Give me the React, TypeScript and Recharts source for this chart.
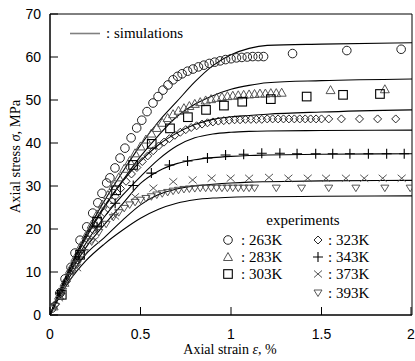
import React from "react";
import {
  ComposedChart,
  Line,
  Scatter,
  XAxis,
  YAxis,
  ReferenceArea,
} from "recharts";

// axis ticks
const xTicks = [0, 0.5, 1, 1.5, 2];
const yTicks = [0, 10, 20, 30, 40, 50, 60, 70];

// simulation curves (strain %, stress MPa)
const simX = [0, 0.05, 0.1, 0.15, 0.2, 0.3, 0.4, 0.5, 0.6, 0.7, 0.8, 0.9, 1.0, 1.1, 1.2, 1.5, 2.0];
const sim263 = [0, 5.3, 10.2, 14.7, 19, 26.5, 33.2, 39.5, 45, 49.6, 54.2, 58, 60.5, 62, 62.7, 63, 63.3];
const sim283 = [0, 5.2, 10, 14.4, 18.5, 25.3, 31.2, 36.9, 41.8, 46.1, 49, 51, 52.5, 53.4, 54, 54.5, 54.9];
const sim303 = [0, 5, 9.7, 14, 18, 25, 31, 35.8, 39.6, 42.3, 44.3, 45.5, 46.1, 46.4, 46.7, 47.2, 47.7];
const sim323 = [0, 4.9, 9.3, 13.2, 16.8, 22.8, 27.8, 32.2, 36.2, 39.3, 41.2, 42.1, 42.5, 42.7, 42.8, 42.9, 43];
const sim343 = [0, 4.8, 9, 12.6, 15.8, 21, 25.8, 30.6, 33.5, 35.2, 36.1, 36.6, 36.9, 37.1, 37.2, 37.4, 37.5];
const sim373 = [0, 4.5, 8.3, 11.5, 14.2, 18, 22, 25.6, 28, 29.3, 30, 30.4, 30.7, 30.9, 31, 31.2, 31.3];
const sim393 = [0, 4, 7.5, 10.3, 12.7, 16.5, 19.7, 22.5, 24.6, 26, 26.8, 27.2, 27.4, 27.5, 27.5, 27.6, 27.7];

// experiments [strain, stress]
const exp263 = [
  [0.01, 1.6], [0.055, 5.1], [0.083, 8.4], [0.116, 11.1], [0.138, 14.4], [0.166, 17.4], [0.203, 20.5],
  [0.236, 23.7], [0.264, 26.1], [0.287, 28.3], [0.313, 30.7], [0.331, 31.9], [0.359, 34.2], [0.387, 36.5],
  [0.414, 38.8], [0.448, 41.2], [0.479, 43.5], [0.507, 45.3], [0.536, 47.3], [0.569, 49.3], [0.597, 50.8],
  [0.624, 52.3], [0.652, 53.5], [0.68, 54.7], [0.705, 55.5], [0.73, 56.1], [0.76, 56.7], [0.79, 57.2],
  [0.82, 57.7], [0.85, 58.1], [0.88, 58.5], [0.91, 58.8], [0.94, 59.1], [0.97, 59.4], [1.0, 59.6],
  [1.03, 59.8], [1.06, 59.9], [1.09, 60], [1.12, 60.1], [1.15, 60.1], [1.18, 60.1], [1.34, 60.8],
  [1.64, 61.5], [1.94, 61.8],
];
const exp283 = [
  [0.02, 2], [0.05, 4.5], [0.08, 7.5], [0.11, 10.5], [0.14, 13.3], [0.17, 16], [0.2, 18.5], [0.23, 21],
  [0.26, 23.4], [0.29, 25.7], [0.32, 27.9], [0.35, 30], [0.38, 32], [0.41, 34], [0.44, 35.8], [0.47, 37.6],
  [0.5, 39.2], [0.53, 40.8], [0.56, 42.2], [0.59, 43.5], [0.62, 44.7], [0.65, 45.8], [0.68, 46.7],
  [0.71, 47.5], [0.74, 48.1], [0.77, 48.6], [0.8, 49.1], [0.83, 49.5], [0.86, 49.9], [0.89, 50.2],
  [0.92, 50.5], [0.95, 50.7], [0.98, 50.9], [1.01, 51], [1.04, 51.1], [1.07, 51.2], [1.1, 51.3],
  [1.13, 51.4], [1.16, 51.5], [1.19, 51.5], [1.22, 51.6], [1.25, 51.6], [1.28, 51.7], [1.55, 52.3],
  [1.85, 52.5],
];
const exp303 = [
  [0.065, 4.7], [0.166, 14], [0.26, 21.7], [0.365, 29], [0.459, 34.9], [0.562, 39.8], [0.663, 43.4],
  [0.762, 46], [0.862, 47.7], [0.961, 48.7], [1.062, 49.6], [1.22, 50.2], [1.418, 50.8], [1.619, 51.2],
  [1.823, 51.4],
];
const exp323 = [
  [0.03, 2.5], [0.06, 5], [0.09, 7.8], [0.12, 10.3], [0.15, 12.8], [0.18, 15.2], [0.21, 17.5], [0.24, 19.7],
  [0.27, 21.8], [0.3, 23.8], [0.33, 25.7], [0.36, 27.6], [0.39, 29.4], [0.42, 31.1], [0.45, 32.8],
  [0.48, 34.3], [0.51, 35.7], [0.54, 37], [0.57, 38.2], [0.6, 39.3], [0.63, 40.2], [0.66, 41], [0.69, 41.8],
  [0.72, 42.5], [0.75, 43.1], [0.78, 43.6], [0.81, 44], [0.84, 44.4], [0.87, 44.7], [0.9, 44.9],
  [0.93, 45.1], [0.96, 45.2], [0.99, 45.3], [1.02, 45.4], [1.05, 45.4], [1.08, 45.5], [1.11, 45.5],
  [1.14, 45.5], [1.17, 45.5], [1.2, 45.6], [1.23, 45.6], [1.26, 45.6], [1.29, 45.6], [1.32, 45.6],
  [1.35, 45.6], [1.38, 45.6], [1.41, 45.6], [1.44, 45.6], [1.47, 45.6], [1.5, 45.6], [1.54, 45.6],
  [1.61, 45.6], [1.71, 45.6], [1.81, 45.6], [1.91, 45.6],
];
const exp343 = [
  [0.055, 5.1], [0.16, 13.5], [0.26, 20.5], [0.36, 26], [0.46, 30.1], [0.56, 33], [0.66, 34.9],
  [0.76, 35.8], [0.87, 36.5], [0.97, 37.2], [1.07, 37.4], [1.17, 37.6], [1.27, 37.6], [1.365, 37.5],
  [1.468, 37.5], [1.562, 37.5], [1.657, 37.5], [1.759, 37.5], [1.86, 37.5], [1.957, 37.5],
];
const exp373 = [
  [0.05, 4], [0.15, 11], [0.25, 17.5], [0.36, 23], [0.47, 27.5], [0.571, 29.5], [0.681, 31], [0.788, 31.4],
  [0.893, 31.8], [0.998, 31.8], [1.1, 31.8], [1.21, 32], [1.317, 31.8], [1.424, 31.8], [1.525, 31.8],
  [1.635, 31.8], [1.736, 31.8], [1.838, 31.8], [1.943, 31.8],
];
const exp393 = [
  [0.03, 2], [0.07, 5.5], [0.11, 8.8], [0.15, 11.8], [0.19, 14.5], [0.23, 17], [0.27, 19.2], [0.31, 21.1],
  [0.35, 22.7], [0.38, 23.8], [0.41, 24.8], [0.44, 25.6], [0.47, 26.2], [0.5, 26.7], [0.53, 27.1],
  [0.56, 27.5], [0.59, 27.9], [0.62, 28.2], [0.65, 28.5], [0.68, 28.8], [0.71, 29], [0.74, 29.2],
  [0.77, 29.3], [0.8, 29.4], [0.83, 29.5], [0.86, 29.5], [0.89, 29.5], [0.92, 29.5], [0.95, 29.5],
  [0.98, 29.5], [1.01, 29.5], [1.04, 29.5], [1.07, 29.5], [1.1, 29.5], [1.13, 29.5], [1.25, 29.5],
  [1.39, 29.5], [1.54, 29.5], [1.69, 29.5], [1.85, 29.5], [1.99, 29.5],
];

const simSeries = [sim263, sim283, sim303, sim323, sim343, sim373, sim393];

const toPts = (arr: number[][]) => arr.map(([x, y]) => ({ x, y }));

const SANS = "'Liberation Sans', Arial, sans-serif";
const SERIF = "'Liberation Serif', 'Times New Roman', serif";

// marker shapes
const Circ = ({ cx, cy, c = "#222" }: any) => (
  <circle cx={cx} cy={cy} r={4.3} fill="none" stroke={c} strokeWidth={1} />
);
const TriUp = ({ cx, cy, c = "#555" }: any) => (
  <path d={`M${cx - 4.5},${cy + 3.5}L${cx + 4.5},${cy + 3.5}L${cx},${cy - 4.5}Z`} fill="none" stroke={c} strokeWidth={1} />
);
const Sq = ({ cx, cy, c = "#000" }: any) => (
  <rect x={cx - 4.3} y={cy - 4.3} width={8.6} height={8.6} fill="none" stroke={c} strokeWidth={1.1} />
);
const Diam = ({ cx, cy, c = "#111" }: any) => (
  <path d={`M${cx},${cy - 4}L${cx + 4},${cy}L${cx},${cy + 4}L${cx - 4},${cy}Z`} fill="none" stroke={c} strokeWidth={0.9} />
);
const Plus = ({ cx, cy, c = "#000" }: any) => (
  <path d={`M${cx - 5},${cy}H${cx + 5}M${cx},${cy - 5}V${cy + 5}`} fill="none" stroke={c} strokeWidth={1.1} />
);
const XMark = ({ cx, cy, c = "#555" }: any) => (
  <path d={`M${cx - 4},${cy - 3.5}L${cx + 4},${cy + 3.5}M${cx - 4},${cy + 3.5}L${cx + 4},${cy - 3.5}`} fill="none" stroke={c} strokeWidth={1} />
);
const TriDown = ({ cx, cy, c = "#444" }: any) => (
  <path d={`M${cx - 4},${cy - 3}L${cx + 4},${cy - 3}L${cx},${cy + 3.5}Z`} fill="none" stroke={c} strokeWidth={0.9} />
);

const XTick = ({ x, y, payload }: any) => (
  <g>
    <line x1={x} y1={y} x2={x} y2={y - 8} stroke="#000" strokeWidth={1} />
    <text x={x} y={y + 24} textAnchor="middle" fontFamily={SANS} fontSize={14} fill="#000">
      {payload.value}
    </text>
  </g>
);

const YTick = ({ x, y, payload }: any) => (
  <g>
    <line x1={x} y1={y} x2={x + 8} y2={y} stroke="#000" strokeWidth={1} />
    <text x={x - 9} y={y + 5} textAnchor="end" fontFamily={SANS} fontSize={14} fill="#000">
      {payload.value}
    </text>
  </g>
);

const expSeries = [
  { data: exp263, Shape: Circ },
  { data: exp283, Shape: TriUp },
  { data: exp303, Shape: Sq },
  { data: exp323, Shape: Diam },
  { data: exp343, Shape: Plus },
  { data: exp373, Shape: XMark },
  { data: exp393, Shape: TriDown },
];

const legendLeft = [
  { Shape: Circ, label: "263K" },
  { Shape: TriUp, label: "283K" },
  { Shape: Sq, label: "303K" },
];
const legendRight = [
  { Shape: Diam, label: "323K" },
  { Shape: Plus, label: "343K" },
  { Shape: XMark, label: "373K" },
  { Shape: TriDown, label: "393K" },
];
const rowBase = [245, 262, 279, 298];

export default function App() {
  return (
    <div style={{ position: "absolute", left: 0, top: 0, width: 415, height: 361, overflow: "hidden", background: "#fff" }}>
      <ComposedChart width={415} height={361} margin={{ top: 14, right: 3, left: 0, bottom: 0 }}>
        <XAxis
          type="number"
          dataKey="x"
          domain={[0, 2]}
          ticks={xTicks}
          height={46}
          tickSize={0}
          tickMargin={0}
          tickLine={false}
          axisLine={{ stroke: "#000" }}
          tick={(p: any) => <XTick {...p} />}
          allowDataOverflow
        />
        <YAxis
          type="number"
          dataKey="y"
          domain={[0, 70]}
          ticks={yTicks}
          width={50}
          tickSize={0}
          tickMargin={0}
          tickLine={false}
          axisLine={{ stroke: "#000" }}
          tick={(p: any) => <YTick {...p} />}
          allowDataOverflow
        />
        <ReferenceArea x1={0} x2={2} y1={0} y2={70} fill="none" stroke="#000" strokeWidth={1} fillOpacity={0} />
        {simSeries.map((s, i) => (
          <Line
            key={`sim-${i}`}
            data={simX.map((x, j) => ({ x, y: s[j] }))}
            dataKey="y"
            type="monotone"
            stroke="#000"
            strokeWidth={1.1}
            dot={false}
            activeDot={false}
            isAnimationActive={false}
          />
        ))}
        {expSeries.map(({ data, Shape }, i) => (
          <Scatter
            key={`exp-${i}`}
            data={toPts(data)}
            isAnimationActive={false}
            shape={(p: any) => <Shape cx={p.cx} cy={p.cy} />}
          />
        ))}
      </ComposedChart>
      <svg width={415} height={361} style={{ position: "absolute", left: 0, top: 0, pointerEvents: "none" }}>
        <line x1={70} y1={33.5} x2={100} y2={33.5} stroke="#808080" strokeWidth={1.6} />
        <text x={106} y={38} fontFamily={SERIF} fontSize={15} fill="#000">: simulations</text>
        <text x={303} y={225} textAnchor="middle" fontFamily={SERIF} fontSize={15} fill="#000">experiments</text>
        {legendLeft.map(({ Shape, label }, i) => (
          <g key={label}>
            <Shape cx={228} cy={rowBase[i] - 5} />
            <text x={241} y={rowBase[i]} fontFamily={SERIF} fontSize={15} fill="#000">: {label}</text>
          </g>
        ))}
        {legendRight.map(({ Shape, label }, i) => (
          <g key={label}>
            <Shape cx={318} cy={rowBase[i] - 5} />
            <text x={328} y={rowBase[i]} fontFamily={SERIF} fontSize={15} fill="#000">: {label}</text>
          </g>
        ))}
        <text x={230} y={353.5} textAnchor="middle" fontFamily={SERIF} fontSize={14} fill="#000">
          Axial strain <tspan fontStyle="italic">ε</tspan>, %
        </text>
        <text
          x={0}
          y={0}
          transform="translate(20,156.5) rotate(-90)"
          textAnchor="middle"
          fontFamily={SERIF}
          fontSize={14.5}
          fill="#000"
        >
          Axial stress <tspan fontStyle="italic">σ</tspan>, MPa
        </text>
      </svg>
    </div>
  );
}
